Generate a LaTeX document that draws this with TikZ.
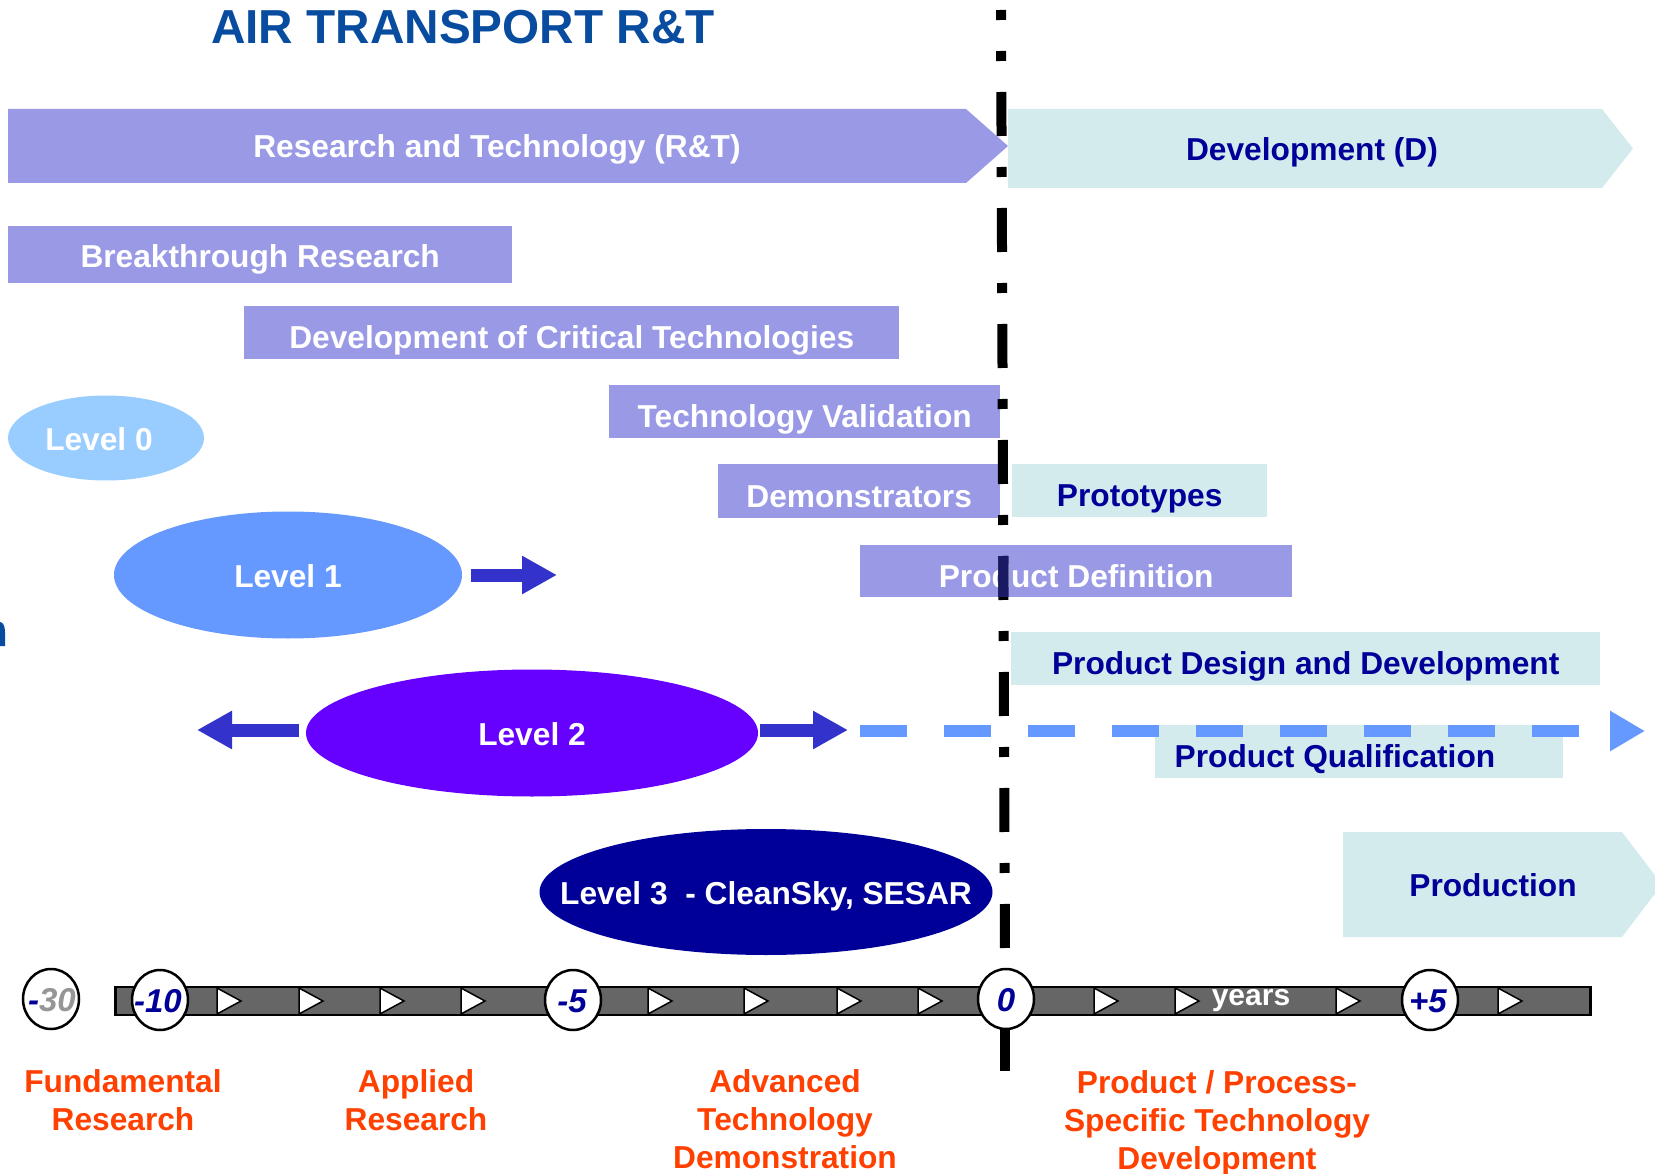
\documentclass[tikz,border=0pt]{standalone}
\usepackage{fontspec}
\setmainfont{Liberation Sans}
\usetikzlibrary{arrows.meta,shapes.geometric}
\definecolor{rtcol}{RGB}{153,153,230}
\definecolor{dcol}{RGB}{212,235,238}
\definecolor{navy}{RGB}{0,0,153}
\definecolor{titlecol}{RGB}{8,76,160}
\definecolor{lzero}{RGB}{153,204,255}
\definecolor{lone}{RGB}{102,153,255}
\definecolor{ltwo}{RGB}{102,0,255}
\definecolor{lthree}{RGB}{0,0,153}
\definecolor{arrcol}{RGB}{51,51,204}
\definecolor{phasecol}{RGB}{255,64,0}
\definecolor{barcol}{RGB}{102,102,102}
\definecolor{numgray}{RGB}{150,150,150}
\definecolor{darkline}{RGB}{25,25,100}
\newcommand\bxfont{\fontsize{31.7}{36}\selectfont\bfseries}
\newcommand\lblfont{\fontsize{31.7}{38}\selectfont\bfseries}
\newcommand\numfont{\fontsize{33}{33}\selectfont\bfseries\itshape}
\newcommand\ttlfont{\fontsize{47.7}{50}\selectfont\bfseries}
\begin{document}
\begin{tikzpicture}[x=1pt,y=-1pt,
  rtbox/.style={fill=rtcol, text=white, font=\bxfont, inner sep=0pt, anchor=north west, text height=32pt, text depth=0pt},
  dbox/.style={fill=dcol, text=navy, font=\bxfont, inner sep=0pt, anchor=north west, text height=32pt, text depth=0pt},
  lvl/.style={ellipse, inner sep=0pt},
  lvltext/.style={text=white, font=\bxfont, inner sep=0pt, text height=24pt, text depth=0pt},
  bigarrow/.style={draw=arrcol, line width=13pt, -{Triangle[length=35pt,width=36pt]}},
  yearmark/.style={ellipse, draw=black, line width=2.5pt, fill=white, minimum width=56pt, minimum height=60pt, inner sep=0pt},
  yeartext/.style={font=\numfont, text=navy, inner sep=0pt, text height=24pt, text depth=0pt},
  phase/.style={text=phasecol, font=\lblfont, align=center},
  tickmark/.style={fill=white, draw=black, line width=1.5pt, line join=miter},
  vline/.style={draw=black, line width=10pt}
]
\useasboundingbox (0,0) rectangle (1655,1174);

% title
\node[anchor=base west, text=titlecol, font=\ttlfont, inner sep=0pt] (title) at (211,44) {AIR TRANSPORT R\&T};
% fragment at left edge
\fill[titlecol] (0,622) .. controls (3,622) and (5,626) .. (5,632) -- (5,646) -- (0,646) -- cycle;

% big phase arrows
\fill[rtcol] (8,109) -- (966,109) -- (1008,146) -- (966,183) -- (8,183) -- cycle;
\node[text=white, font=\bxfont, inner sep=0pt] (rt) at (497,149) {Research and Technology (R\&T)};
\fill[dcol] (1008,109) -- (1602,109) -- (1633,148.5) -- (1602,188) -- (1008,188) -- cycle;
\node[text=navy, font=\bxfont, inner sep=0pt] (dev) at (1312,152) {Development (D)};
\fill[dcol] (1343,832) -- (1622,832) -- (1662,884.5) -- (1622,937) -- (1343,937) -- cycle;
\node[text=navy, font=\bxfont, inner sep=0pt] (prod) at (1493,885) {Production};

% activity boxes
\node[rtbox, minimum width=504pt, minimum height=57pt, text height=26pt] (br) at (8,226) {Breakthrough Research};
\node[rtbox, minimum width=655pt, minimum height=53pt] (dct) at (244,306) {Development of Critical Technologies};
\node[rtbox, minimum width=391pt, minimum height=53pt] (tv) at (609,385) {Technology Validation};
\node[rtbox, minimum width=282pt, minimum height=54pt] (dem) at (718,464) {Demonstrators};
\node[dbox, minimum width=255pt, minimum height=53pt] (proto) at (1012,464) {Prototypes};
\node[rtbox, minimum width=432pt, minimum height=52pt] (pdef) at (860,545) {Product Definition};
\node[dbox, minimum width=589pt, minimum height=53pt] (pdd) at (1011,632) {Product Design and Development};
\node[dbox, minimum width=408pt, minimum height=53pt] (pq) at (1155,725) {};
\node[text=navy, font=\bxfont, inner sep=0pt, text height=32pt, text depth=0pt] (pqt) at (1335,751.5) {Product Qualification};

% levels
\node[lvl, fill=lzero, minimum width=196pt, minimum height=85pt] (l0) at (106,438) {};
\node[lvltext] (l0t) at (99,438) {Level 0};
\node[lvl, fill=lone, minimum width=348pt, minimum height=127pt] (l1) at (288,575) {};
\node[lvltext] (l1t) at (l1) {Level 1};
\node[lvl, fill=ltwo, minimum width=452pt, minimum height=127pt] (l2) at (532,733) {};
\node[lvltext] (l2t) at (l2) {Level 2};
\node[lvl, fill=lthree, minimum width=453pt, minimum height=126pt] (l3) at (766,892) {};
\node[lvltext] (l3t) at (l3) {Level 3\ \ - CleanSky, SESAR};

\coordinate (l1tip) at (557,575);
\coordinate (l2ltip) at (197,730);
\coordinate (l2rtip) at (848,730);
\coordinate (qstart) at (860,731);
\coordinate (qend) at (1645,731);
\draw[bigarrow] ([xshift=9pt]l1.east) -- (l1tip);
\draw[bigarrow] ([xshift=-7pt,yshift=3pt]l2.west) -- (l2ltip);
\draw[bigarrow] ([xshift=2pt,yshift=3pt]l2.east) -- (l2rtip);
\draw[draw=lone, line width=12pt, dash pattern=on 47pt off 37pt, -{Triangle[length=35pt,width=38pt]}] (qstart) -- (qend);

% timeline bar
\node[draw=black, line width=2.5pt, fill=barcol, minimum width=1475pt, minimum height=28pt, inner sep=0pt, anchor=west] (bar) at (114,1001) {};
\foreach \tx in {217,299,380,461,648,744,837,918,1094,1175,1336,1498}
  \filldraw[tickmark] (\tx,988) -- (\tx+24,1001) -- (\tx,1014) -- cycle;
\node[text=white, font=\fontsize{30}{30}\selectfont\bfseries, inner sep=0pt] (years) at (1251,1001) {years};

% zero line
\draw[vline, dash pattern=on 44pt off 31pt on 10pt off 31pt, dash phase=34pt] (1001,10) -- (1005,960);
\draw[darkline, line width=10pt] (1003.3,556) -- (1003.4,597);
\draw[vline] (1005,980) -- (1005,1071);

% year markers
\node[yearmark] (m30) at (51,999) {};
\node[yeartext] (m30t) at (52,999) {{\color{navy}-}{\color{numgray}30}};
\node[yearmark] (m10) at (160,1000) {};
\node[yeartext] (m10t) at (158,1000) {-10};
\node[yearmark] (m5) at (573,1000) {};
\node[yeartext] (m5t) at (572,1000) {-5};
\node[yearmark] (m0) at (1006,999) {};
\node[yeartext] (m0t) at (1006,999) {0};
\node[yearmark] (p5) at (1430,1000) {};
\node[yeartext] (p5t) at (1428,1000) {+5};

% phase labels
\node[phase] (fr) at (123,1100) {Fundamental\\Research};
\node[phase] (ar) at (416,1100) {Applied\\Research};
\node[phase] (atd) at (785,1119) {Advanced\\Technology\\Demonstration};
\node[phase] (pps) at (1217,1123) {Product / Process-\\Specific Technology\\Development};
\end{tikzpicture}
\end{document}
